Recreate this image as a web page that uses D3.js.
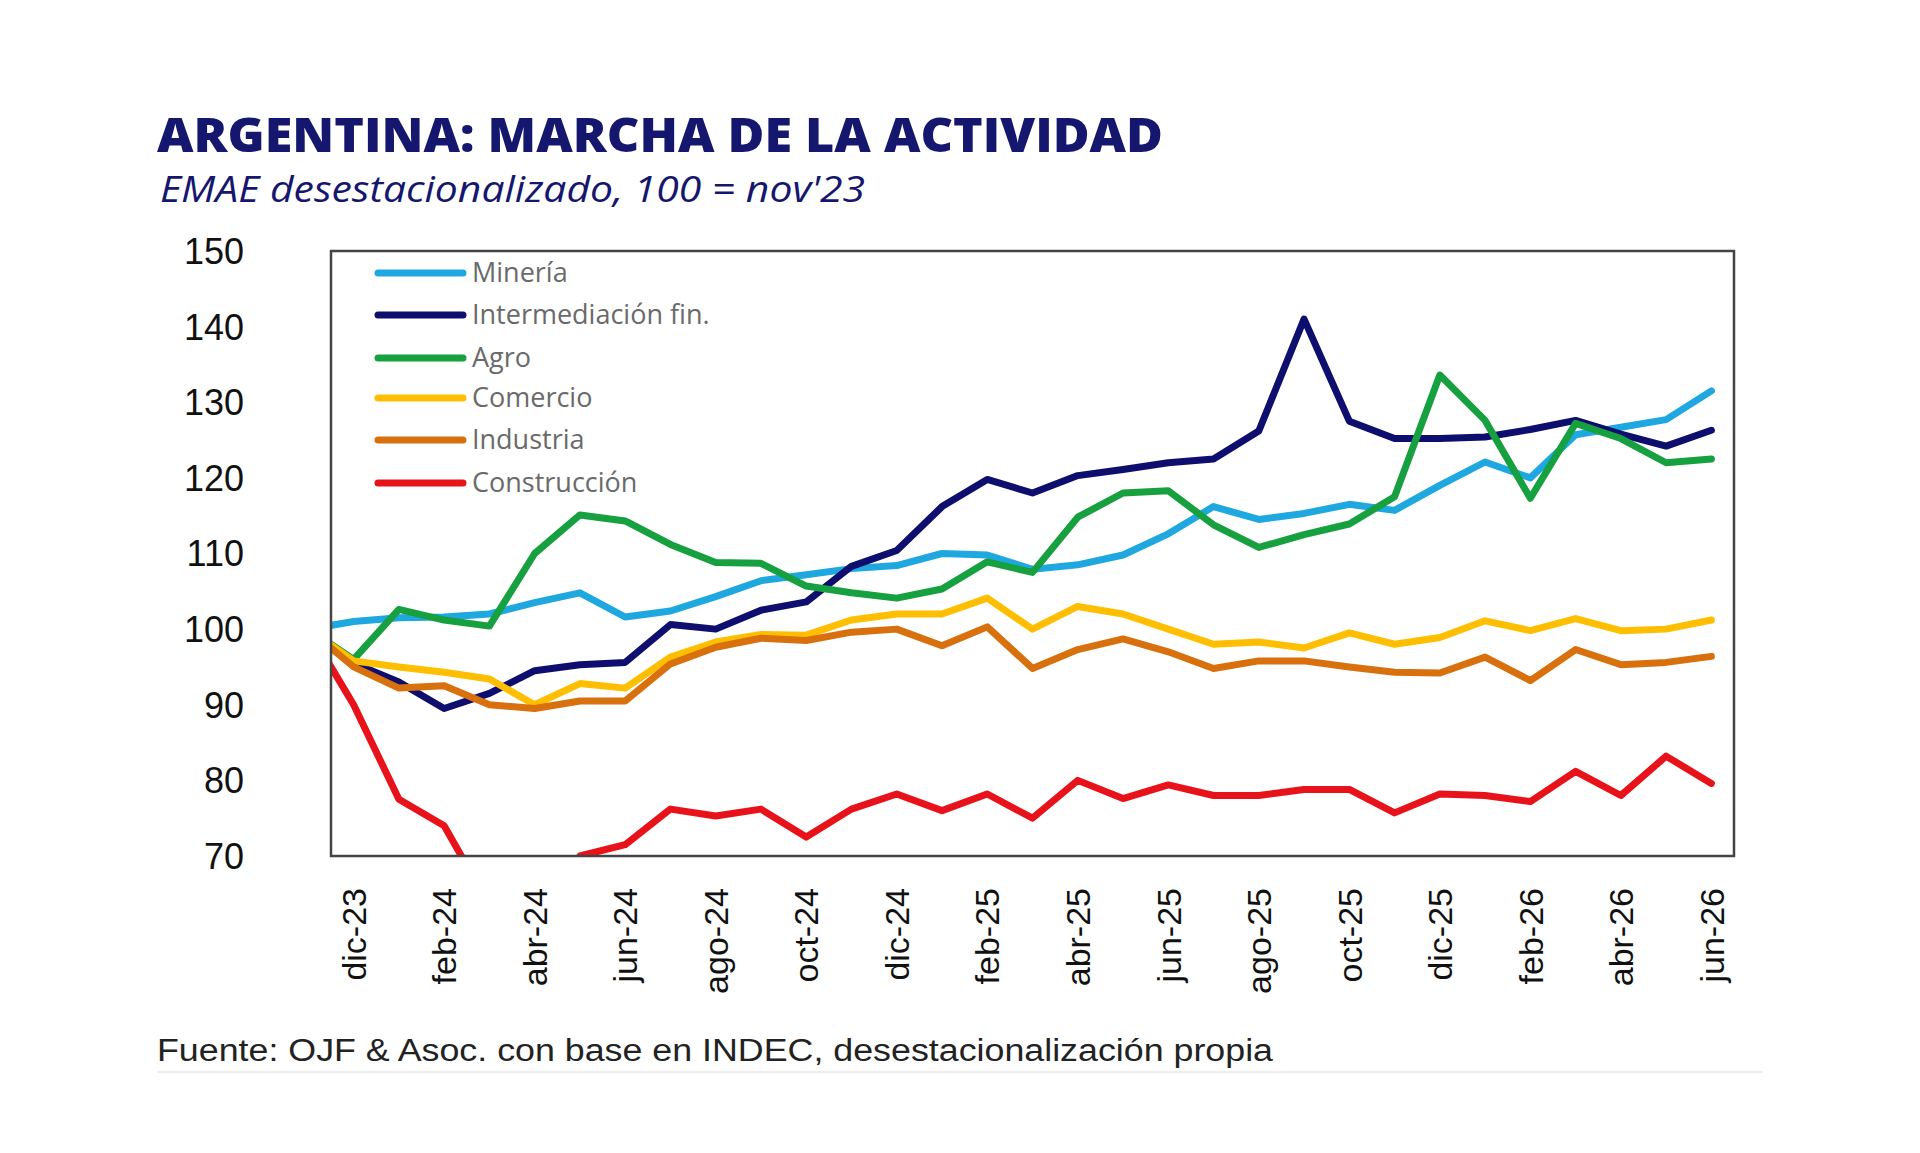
<!DOCTYPE html>
<html>
<head>
<meta charset="utf-8">
<script src="https://cdn.jsdelivr.net/npm/d3@7"></script>
<style>
  body { margin: 0; background: #fff; }
  svg { display: block; }
</style>
</head>
<body>
<script>
// months: nov-23 (base, index -1) to jun-26 (index 30)
const months = ["nov-23","dic-23","ene-24","feb-24","mar-24","abr-24","may-24","jun-24","jul-24","ago-24","sep-24","oct-24","nov-24","dic-24",
  "ene-25","feb-25","mar-25","abr-25","may-25","jun-25","jul-25","ago-25","sep-25","oct-25","nov-25","dic-25",
  "ene-26","feb-26","mar-26","abr-26","may-26","jun-26"];
const tickLabels = ["dic-23","feb-24","abr-24","jun-24","ago-24","oct-24","dic-24","feb-25","abr-25","jun-25","ago-25","oct-25","dic-25","feb-26","abr-26","jun-26"];
const yTicks = [70, 80, 90, 100, 110, 120, 130, 140, 150];

const mineria = [100, 101, 101.5, 101.6, 102, 103.5, 104.8, 101.6, 102.4, 104.3, 106.4, 107.2, 108, 108.4, 110, 109.8, 107.9,
  108.5, 109.8, 112.6, 116.2, 114.5, 115.3, 116.5, 115.7, 119, 122.1, 120, 125.7, 126.7, 127.7, 131.5];
const intermediacion = [100, 95.5, 93, 89.5, 91.5, 94.5, 95.3, 95.6, 100.6, 100, 102.5, 103.6, 108.3, 110.4, 116.2, 119.8, 118,
  120.3, 121.1, 122, 122.5, 126.2, 141, 127.5, 125.2, 125.2, 125.4, 126.4, 127.6, 125.8, 124.2, 126.3];
const agro = [100, 96, 102.6, 101.2, 100.4, 110, 115.1, 114.3, 111.2, 108.8, 108.7, 105.7, 104.8, 104.1, 105.3, 108.9, 107.5,
  114.8, 118, 118.3, 113.8, 110.8, 112.5, 113.9, 117.5, 133.6, 127.6, 117.3, 127.2, 125.2, 122, 122.5];
const comercio = [100, 95.8, 95, 94.3, 93.4, 90, 92.8, 92.2, 96.3, 98.3, 99.3, 99.2, 101.2, 102, 102, 104.1, 100,
  103, 102, 100, 98, 98.3, 97.5, 99.5, 98, 98.9, 101.1, 99.8, 101.4, 99.8, 100, 101.2];
const industria = [100, 95, 92.2, 92.5, 90, 89.5, 90.5, 90.5, 95.4, 97.6, 98.8, 98.5, 99.6, 100, 97.8, 100.3, 94.8,
  97.3, 98.7, 97, 94.8, 95.8, 95.8, 95, 94.3, 94.2, 96.3, 93.2, 97.3, 95.3, 95.6, 96.4];
const construccion = [100, 90, 77.5, 74, 63.5, 62, 70, 71.5, 76.2, 75.3, 76.2, 72.5, 76.2, 78.2, 76, 78.2, 75,
  80, 77.6, 79.4, 78, 78, 78.8, 78.8, 75.7, 78.2, 78, 77.2, 81.2, 78, 83.2, 79.6];

const series = [
  { name: "Minería", values: mineria, color: "#1fa7e0" },
  { name: "Intermediación fin.", values: intermediacion, color: "#0e0e6e" },
  { name: "Agro", values: agro, color: "#17a03f" },
  { name: "Comercio", values: comercio, color: "#ffbf00" },
  { name: "Industria", values: industria, color: "#d8700e" },
  { name: "Construcción", values: construccion, color: "#e8121a" }
];

const W = 1920, H = 1153;
const plot = { left: 331, right: 1734, top: 251, bottom: 856 };

const svg = d3.select("body").append("svg").attr("width", W).attr("height", H);

// index -1 is the base month, drawn outside the frame and clipped
const x = d3.scaleLinear().domain([-0.5, 30.5]).range([plot.left, plot.right]);
const y = d3.scaleLinear().domain([70, 150]).range([plot.bottom, plot.top]);

// Title block
svg.append("text").attr("x", 157).attr("y", 152)
  .attr("font-family", "Open Sans, sans-serif").attr("font-weight", 800).attr("font-size", 48)
  .attr("fill", "#15166e").attr("textLength", 1006).attr("lengthAdjust", "spacingAndGlyphs")
  .text("ARGENTINA: MARCHA DE LA ACTIVIDAD");
svg.append("text").attr("x", 160).attr("y", 202)
  .attr("font-family", "Open Sans, sans-serif").attr("font-style", "italic").attr("font-size", 36)
  .attr("fill", "#15166e").attr("textLength", 705).attr("lengthAdjust", "spacingAndGlyphs")
  .text("EMAE desestacionalizado, 100 = nov'23");

// Y tick labels
svg.append("g").selectAll("text").data(yTicks).join("text")
  .attr("x", 244).attr("y", d => y(d)).attr("dy", "0.36em")
  .attr("text-anchor", "end").attr("font-family", "Liberation Sans, Arial, sans-serif")
  .attr("font-size", 36).attr("fill", "#111")
  .text(d => d);

// X tick labels (rotated)
svg.append("g").selectAll("text").data(tickLabels).join("text")
  .attr("transform", d => `translate(${x(months.indexOf(d) - 1)},888) rotate(-90)`)
  .attr("dy", "0.36em").attr("text-anchor", "end")
  .attr("font-family", "Liberation Sans, Arial, sans-serif").attr("font-size", 34).attr("fill", "#111")
  .text(d => d);

// Lines
svg.append("clipPath").attr("id", "clip").append("rect")
  .attr("x", plot.left).attr("y", plot.top)
  .attr("width", plot.right - plot.left).attr("height", plot.bottom - plot.top);

const line = d3.line().x((d, i) => x(i - 1)).y(d => y(d));
svg.append("g").attr("clip-path", "url(#clip)").selectAll("path").data(series).join("path")
  .attr("d", d => line(d.values))
  .attr("fill", "none").attr("stroke", d => d.color).attr("stroke-width", 7)
  .attr("stroke-linejoin", "round").attr("stroke-linecap", "round");

// Frame
svg.append("rect").attr("x", plot.left).attr("y", plot.top)
  .attr("width", plot.right - plot.left).attr("height", plot.bottom - plot.top)
  .attr("fill", "none").attr("stroke", "#444").attr("stroke-width", 2.5);

// Legend
const legendY = [273, 315, 358, 398, 440, 483];
const lg = svg.append("g").selectAll("g").data(series).join("g")
  .attr("transform", (d, i) => `translate(0,${legendY[i]})`);
lg.append("line").attr("x1", 378).attr("x2", 463).attr("y1", 0).attr("y2", 0)
  .attr("stroke", d => d.color).attr("stroke-width", 7).attr("stroke-linecap", "round");
lg.append("text").attr("x", 472).attr("y", 0).attr("dy", "0.35em")
  .attr("font-family", "Open Sans, sans-serif").attr("font-size", 27).attr("fill", "#6a6a6a")
  .text(d => d.name);

// Source
svg.append("text").attr("x", 157).attr("y", 1061)
  .attr("font-family", "Liberation Sans, Arial, sans-serif").attr("font-size", 31).attr("fill", "#222")
  .attr("textLength", 1116).attr("lengthAdjust", "spacingAndGlyphs")
  .text("Fuente: OJF & Asoc. con base en INDEC, desestacionalización propia");
svg.append("line").attr("x1", 157).attr("x2", 1763).attr("y1", 1072).attr("y2", 1072)
  .attr("stroke", "#eee").attr("stroke-width", 2);
</script>
</body>
</html>
